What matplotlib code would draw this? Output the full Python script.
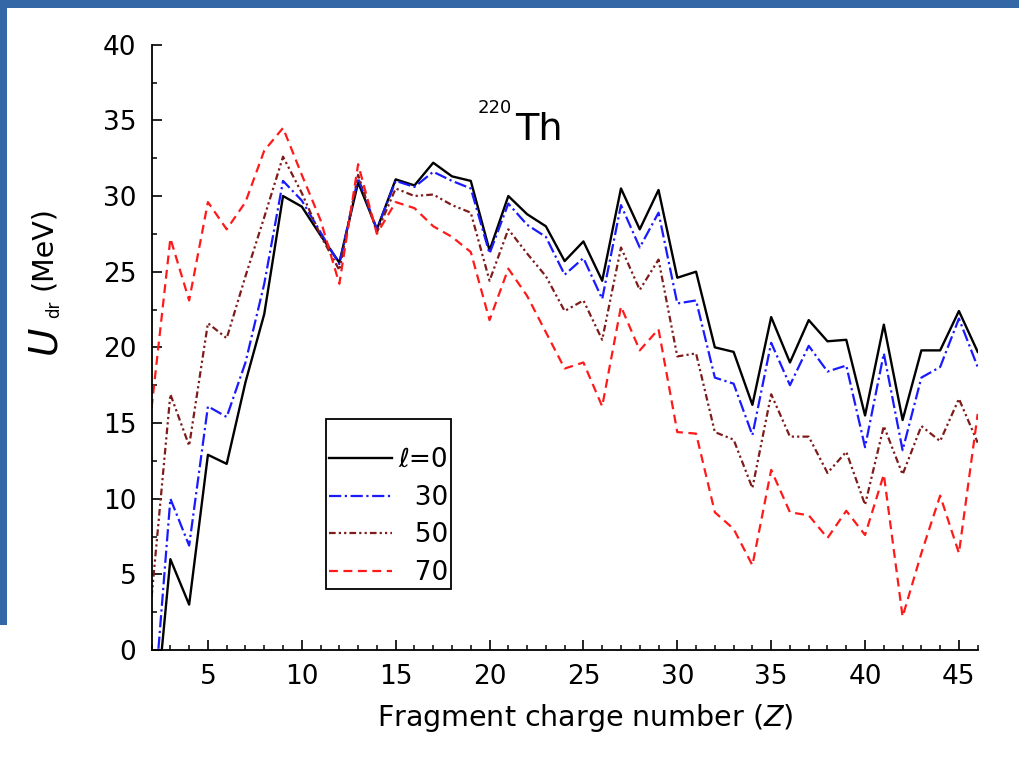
import numpy as np
import matplotlib
matplotlib.use('Agg')
import matplotlib.pyplot as plt
from matplotlib.patches import Rectangle
from matplotlib.ticker import MultipleLocator

plt.rcParams['font.family'] = ['DejaVu Sans']
plt.rcParams['mathtext.fontset'] = 'dejavusans'

# fragment charge number Z
Z = np.arange(2, 47)

# U_dr (MeV) for angular momenta l = 0, 30, 50, 70
U_l0 = [-7.1, 6.0, 3.0, 12.9, 12.3, 17.7, 22.2, 30.0, 29.3, 27.4, 25.6, 30.9,
        27.8, 31.1, 30.7, 32.2, 31.3, 31.0, 26.4, 30.0, 28.8, 28.0, 25.7, 27.0,
        24.4, 30.5, 27.8, 30.4, 24.6, 25.0, 20.0, 19.7, 16.2, 22.0, 19.0, 21.8,
        20.4, 20.5, 15.5, 21.5, 15.2, 19.8, 19.8, 22.4, 19.7]
U_l30 = [-5.6, 10.0, 6.9, 16.1, 15.4, 19.0, 24.2, 31.0, 29.7, 27.6, 25.5, 31.2,
         27.8, 31.0, 30.6, 31.6, 31.0, 30.5, 26.2, 29.5, 28.1, 27.3, 24.8, 25.9,
         23.2, 29.4, 26.6, 28.9, 22.9, 23.1, 18.0, 17.6, 14.2, 20.3, 17.5, 20.1,
         18.4, 18.8, 13.4, 19.6, 13.2, 18.0, 18.7, 21.9, 18.7]
U_l50 = [3.5, 16.9, 13.5, 21.6, 20.6, 24.7, 28.6, 32.6, 30.2, 27.4, 25.1, 31.4,
         27.6, 30.5, 30.0, 30.1, 29.4, 28.9, 24.4, 27.8, 26.2, 24.7, 22.4, 23.1,
         20.5, 26.6, 23.8, 25.8, 19.4, 19.6, 14.4, 13.9, 10.7, 16.9, 14.1, 14.1,
         11.7, 13.1, 9.6, 14.8, 11.6, 14.8, 13.8, 16.6, 13.7]
U_l70 = [16.0, 27.2, 23.1, 29.6, 27.8, 29.6, 33.0, 34.5, 31.4, 28.4, 24.2, 32.1,
         27.5, 29.6, 29.2, 28.0, 27.3, 26.3, 21.8, 25.2, 23.4, 21.0, 18.6, 19.0,
         16.1, 22.7, 19.8, 21.2, 14.4, 14.3, 9.1, 8.0, 5.6, 11.9, 9.1, 8.9,
         7.4, 9.2, 7.6, 11.6, 2.2, 6.4, 10.2, 6.4, 15.6]

labels = ['\u2113=0', '  30', '  50', '  70']


def plot_udr():
    W, H = 1019, 765
    fig = plt.figure(figsize=(W / 100, H / 100), dpi=100)

    # blue slide frame (top and left edges)
    fig.patches.append(Rectangle((0, 1 - 8 / H), 1, 8 / H, transform=fig.transFigure,
                                 facecolor='#3467a5', edgecolor='none', zorder=0))
    fig.patches.append(Rectangle((0, 1 - 625 / H), 7 / W, 625 / H, transform=fig.transFigure,
                                 facecolor='#3467a5', edgecolor='none', zorder=0))

    ax = fig.add_axes([151.6 / W, 1 - 650 / H, 826.1 / W, 605.3 / H])

    ax.plot(Z, U_l0, color='black', lw=1.7, ls='-', label=labels[0])
    ax.plot(Z, U_l30, color='#1a1aff', lw=1.6, ls=(0, (5.5, 1.6, 1, 1.6)), label=labels[1])
    ax.plot(Z, U_l50, color='#7e1c1c', lw=1.6, ls=(0, (3, 1.4, 1, 1.4, 1, 1.4)), label=labels[2])
    ax.plot(Z, U_l70, color='#ff1a1a', lw=1.6, ls=(0, (4, 2.5)), label=labels[3])

    ax.set_xlim(2, 46)
    ax.set_ylim(0, 40)
    ax.xaxis.set_minor_locator(MultipleLocator(1))
    ax.yaxis.set_major_locator(MultipleLocator(5))
    ax.yaxis.set_minor_locator(MultipleLocator(2.5))
    ax.set_xticks(np.arange(5, 46, 5))

    # only left and bottom axis lines
    ax.spines['top'].set_visible(False)
    ax.spines['right'].set_visible(False)
    for s in ('left', 'bottom'):
        ax.spines[s].set_linewidth(1.3)
    ax.tick_params(which='major', direction='in', length=7, width=1.2, labelsize=19)
    ax.tick_params(which='minor', direction='in', length=3.8, width=1.1)
    ax.tick_params(axis='x', which='major', pad=10)
    ax.tick_params(axis='y', which='major', pad=11)

    # axis titles
    fig.text(585 / W, 1 - 718 / H, 'Fragment charge number ($\\it{Z}$)', fontsize=20.5,
             ha='center', va='center')
    fig.text(44 / W, 1 - 340 / H, 'U', fontsize=28, style='italic', rotation=90,
             ha='center', va='center')
    fig.text(54 / W, 1 - 309 / H, 'dr', fontsize=12, rotation=90,
             ha='center', va='center')
    fig.text(43 / W, 1 - 248 / H, '(MeV)', fontsize=20.5, rotation=90,
             ha='center', va='center')

    # nucleus label
    fig.text(478 / W, 1 - 113 / H, '220', fontsize=13, ha='left', va='baseline')
    fig.text(515 / W, 1 - 140 / H, 'Th', fontsize=27.5, ha='left', va='baseline')

    leg = ax.legend(loc='upper left', bbox_to_anchor=(326 / W, 1 - 419 / H),
                    bbox_transform=fig.transFigure, borderaxespad=0, fancybox=False,
                    edgecolor='black', framealpha=1, fontsize=19, handlelength=2.4,
                    handletextpad=0.23, labelspacing=0.44, borderpad=0.1,
                    title=' ', title_fontsize=10)
    leg.get_frame().set_linewidth(1.3)

    fig.savefig('out.png', dpi=100)


if __name__ == '__main__':
    plot_udr()
